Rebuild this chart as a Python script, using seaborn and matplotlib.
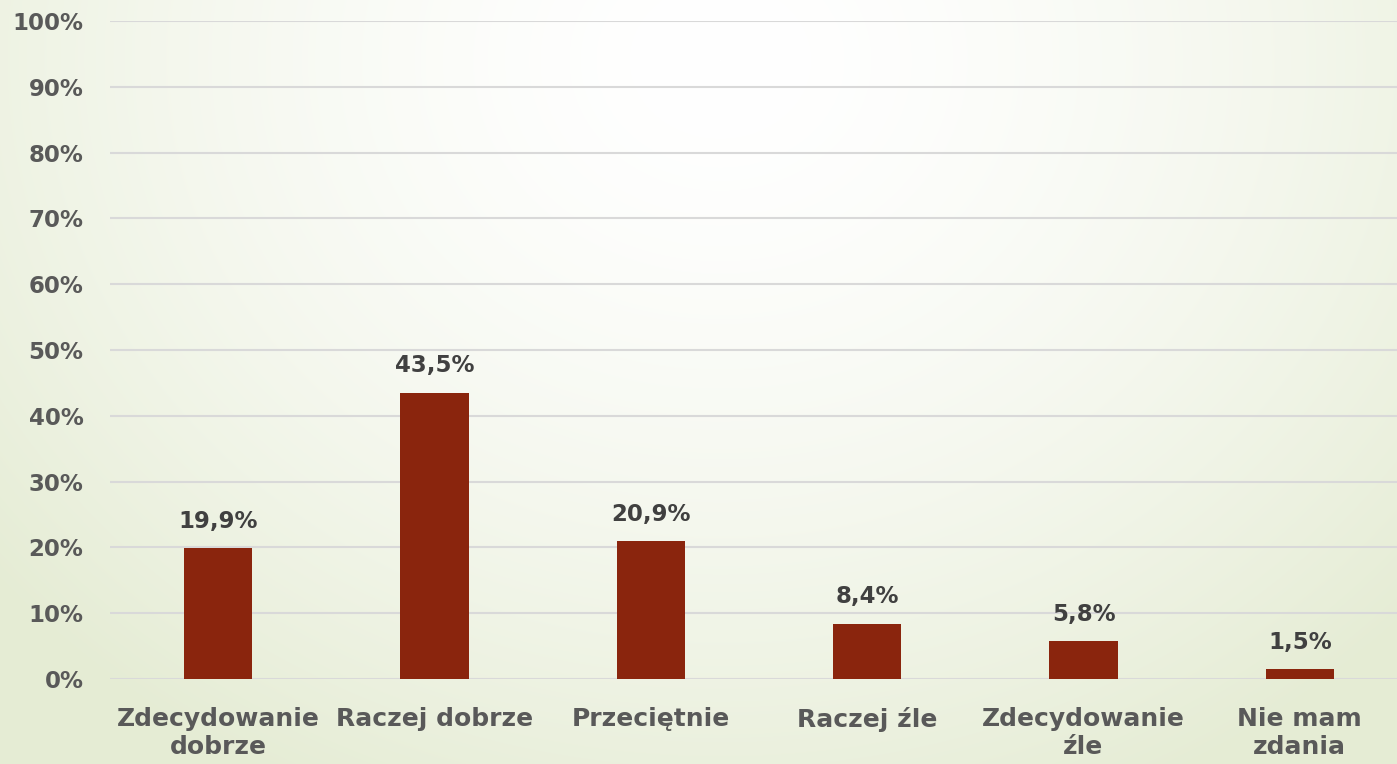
import numpy as np
import pandas as pd
import matplotlib
matplotlib.use("Agg")
import matplotlib.pyplot as plt
import seaborn as sns

categories = ["Zdecydowanie\ndobrze", "Raczej dobrze", "Przeciętnie",
              "Raczej źle", "Zdecydowanie\nźle", "Nie mam\nzdania"]
values = [19.9, 43.5, 20.9, 8.4, 5.8, 1.5]
y_ticks = [0, 10, 20, 30, 40, 50, 60, 70, 80, 90, 100]

sns.set_theme(style="white")
plt.rcParams["font.family"] = ["DejaVu Sans"]

W, H, DPI = 1397, 764, 100
fig = plt.figure(figsize=(W / DPI, H / DPI), dpi=DPI)

# soft radial background: white near the top centre, pale green at the edges
bg = fig.add_axes([0, 0, 1, 1], zorder=-10)
yy, xx = np.mgrid[0:H, 0:W]
r = np.sqrt(((xx - 720) / 950.0) ** 2 + ((yy - 60) / 820.0) ** 2)
t = np.clip(r, 0, 1) ** 1.6
centre = np.array([255, 255, 255]) / 255.0
edge = np.array([229, 236, 212]) / 255.0
img = centre[None, None, :] * (1 - t[..., None]) + edge[None, None, :] * t[..., None]
bg.imshow(img, aspect="auto", extent=[0, 1, 0, 1], origin="upper")
bg.set_axis_off()

# plot area runs slightly past the right edge of the canvas
left_px, right_px = 110, 1408
ax = fig.add_axes([left_px / W, 1 - 679 / H, (right_px - left_px) / W, (679 - 21) / H])
ax.patch.set_alpha(0)

df = pd.DataFrame({"kategoria": categories, "procent": values})
sns.barplot(data=df, x="kategoria", y="procent", color="#8A250D",
            saturation=1, width=0.315, linewidth=0, ax=ax, zorder=3)

for c in ax.containers:
    ax.bar_label(c, labels=[f"{v:.1f}%".replace(".", ",") for v in values],
                 padding=11, fontsize=16.5, fontweight="bold", color="#404040")

ax.set_xlim(-0.5, len(categories) - 0.5)
ax.set_ylim(0, 100)
ax.set_yticks(y_ticks)
ax.set_yticklabels([f"{v}%" for v in y_ticks])
ax.yaxis.grid(True, color="#d9d9d9", linewidth=1.5, zorder=0)
ax.set_axisbelow(True)
for s in ax.spines.values():
    s.set_visible(False)
ax.tick_params(axis="both", length=0, labelcolor="#595959")
ax.tick_params(axis="y", pad=19, labelsize=16.5)
ax.tick_params(axis="x", pad=20, labelsize=18)
for lab in ax.get_xticklabels() + ax.get_yticklabels():
    lab.set_fontweight("bold")
ax.set_xlabel("")
ax.set_ylabel("")

fig.savefig("out.png", dpi=DPI)
